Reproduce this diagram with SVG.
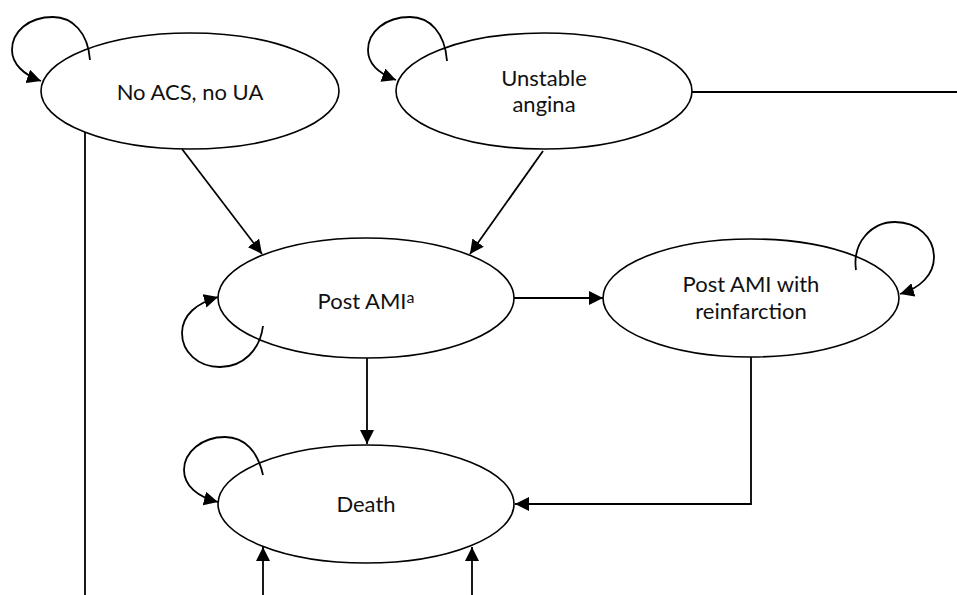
<svg xmlns="http://www.w3.org/2000/svg" width="957" height="595" viewBox="0 0 957 595">
<style>
.node ellipse{fill:#fff;stroke:#000;stroke-width:1.6}
.lbl{font-family:Lato,"Liberation Sans",sans-serif;font-size:22px;fill:#111;text-anchor:middle}
.edge{fill:none;stroke:#000;stroke-width:1.8}
.arr{marker-end:url(#ah)}
</style>
<defs>
<marker id="ah" viewBox="0 0 12 12" refX="12" refY="6" markerWidth="14" markerHeight="14" markerUnits="userSpaceOnUse" orient="auto">
<path d="M0,0 L12,6 L0,12 z" fill="#000"/>
</marker>
</defs>
<g id="nodes">
<g id="no-acs" class="node"><ellipse cx="190" cy="91" rx="149" ry="58"/><text class="lbl" x="190" y="100">No ACS, no UA</text></g>
<g id="unstable" class="node"><ellipse cx="544" cy="91" rx="148" ry="58"/><text class="lbl" x="544" y="86">Unstable</text><text class="lbl" x="544" y="112">angina</text></g>
<g id="post-ami" class="node"><ellipse cx="366" cy="298" rx="148" ry="60"/><text class="lbl" x="366" y="309">Post AMI<tspan font-size="16" dy="-6">a</tspan></text></g>
<g id="reinf" class="node"><ellipse cx="751" cy="298" rx="148" ry="59"/><text class="lbl" x="751" y="292">Post AMI with</text><text class="lbl" x="751" y="319">reinfarction</text></g>
<g id="death" class="node"><ellipse cx="366" cy="504" rx="148" ry="59"/><text class="lbl" x="366" y="512">Death</text></g>
</g>
<g id="connectors">
<path class="edge" d="M85,132 L85,595"/>
<path class="edge" d="M692,92 L957,92"/>
<path class="edge arr" d="M182,149 L262,254"/>
<path class="edge arr" d="M543,151 L470,254"/>
<path class="edge arr" d="M514,298 L603,298"/>
<path class="edge arr" d="M367,358 L367,444"/>
<path class="edge arr" d="M751,357 L751,504 L515,504"/>
<path class="edge arr" d="M263,595 L263,547"/>
<path class="edge arr" d="M472,595 L472,547"/>
<path class="edge arr" d="M90,60 C88,32 72,17 53,17 C28,17 12,32 12,50 C12,64 24,75 41,81"/>
<path class="edge arr" d="M447,61 C445,33 430,17 410,17 C385,17 368,32 368,50 C368,64 380,74 396,80"/>
<path class="edge arr" d="M263,326 C260,350 243,367 220,367 C198,367 182,352 182,333 C182,315 197,303 218,297"/>
<path class="edge arr" d="M856,270 C852,242 872,222 895,222 C918,222 934,238 934,257 C934,275 920,288 900,294"/>
<path class="edge arr" d="M263,475 C258,452 245,437 225,437 C202,437 184,452 184,470 C184,486 198,497 218,502"/>
</g>
</svg>
